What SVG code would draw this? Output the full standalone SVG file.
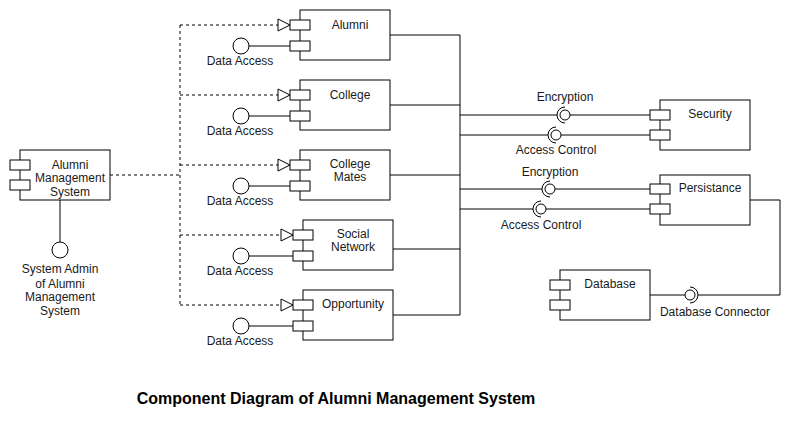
<svg xmlns="http://www.w3.org/2000/svg" width="799" height="421" viewBox="0 0 799 421">
<style>
.box{fill:#fff;stroke:#000;stroke-width:1}
.port{fill:#fff;stroke:#000;stroke-width:1}
.ln{fill:none;stroke:#000;stroke-width:1}
.dash{fill:none;stroke:#000;stroke-width:1;stroke-dasharray:3 3}
.tri{fill:#fff;stroke:#000;stroke-width:1}
.ball{fill:#fff;stroke:#000;stroke-width:1}
text{font-family:"Liberation Sans",Arial,sans-serif;font-size:12px;fill:#1a1a1a;text-anchor:middle}
.title{font-size:16px;font-weight:bold;fill:#000}
</style>
<rect width="799" height="421" fill="#fff"/>
<g id="connectors">
  <!-- dashed realization lines -->
  <path class="dash" d="M110,175 H180 M180,25 V305 M180,25 H278 M180,95 H278 M180,165 H278 M180,235 H281 M180,305 H281"/>
  <path class="tri" d="M278,19 L290,25 L278,31 Z"/>
  <path class="tri" d="M278,89 L290,95 L278,101 Z"/>
  <path class="tri" d="M278,159 L290,165 L278,171 Z"/>
  <path class="tri" d="M281,229 L293,235 L281,241 Z"/>
  <path class="tri" d="M281,299 L293,305 L281,311 Z"/>
  <!-- data access lollipops -->
  <path class="ln" d="M249,46 H290 M249,116 H290 M249,186 H290 M249,256 H293 M249,326 H293"/>
  <!-- admin lollipop -->
  <path class="ln" d="M60,200 V242"/>
  <!-- bus -->
  <path class="ln" d="M390,35 H460 M390,105 H460 M390,175 H460 M393,249 H460 M393,315 H460 M460,35 V315"/>
  <path class="ln" d="M460,115 H557 M570,115 H650"/>
  <path class="ln" d="M460,135 H548 M561,135 H650"/>
  <path class="ln" d="M460,189 H542 M555,189 H650"/>
  <path class="ln" d="M460,209 H533 M546,209 H650"/>
  <!-- sockets -->
  <path class="ln" d="M565,107 A8,8 0 0 0 565,123"/>
  <path class="ln" d="M556,127 A8,8 0 0 0 556,143"/>
  <path class="ln" d="M550,181 A8,8 0 0 0 550,197"/>
  <path class="ln" d="M541,201 A8,8 0 0 0 541,217"/>
  <circle class="ball" cx="565" cy="115" r="5"/>
  <circle class="ball" cx="556" cy="135" r="5"/>
  <circle class="ball" cx="550" cy="189" r="5"/>
  <circle class="ball" cx="541" cy="209" r="5"/>
  <!-- database connector -->
  <path class="ln" d="M750,200 H780 V295 H698 M650,295 H685"/>
  <path class="ln" d="M690,287 A8,8 0 0 1 690,303"/>
  <circle class="ball" cx="690" cy="295" r="5"/>
  <text x="565" y="101">Encryption</text>
  <text x="556" y="154">Access Control</text>
  <text x="550" y="176">Encryption</text>
  <text x="541" y="229">Access Control</text>
  <text x="715" y="316">Database Connector</text>
</g>
<g id="ams">
  <rect class="box" x="20" y="150" width="90" height="50"/>
  <rect class="port" x="10" y="160" width="20" height="10"/>
  <rect class="port" x="10" y="180" width="20" height="10"/>
  <text x="70" y="169">Alumni</text>
  <text x="70" y="182">Management</text>
  <text x="70" y="196">System</text>
</g>
<g id="admin">
  <circle class="ball" cx="60" cy="250" r="8"/>
  <text x="60" y="273">System Admin</text>
  <text x="60" y="288">of Alumni</text>
  <text x="60" y="301">Management</text>
  <text x="60" y="315">System</text>
</g>
<g id="alumni">
  <rect class="box" x="300" y="10" width="90" height="50"/>
  <rect class="port" x="290" y="20" width="20" height="10"/>
  <rect class="port" x="290" y="41" width="20" height="10"/>
  <text x="350" y="29">Alumni</text>
  <circle class="ball" cx="241" cy="46" r="8"/>
  <text x="240" y="65">Data Access</text>
</g>
<g id="college">
  <rect class="box" x="300" y="80" width="90" height="50"/>
  <rect class="port" x="290" y="90" width="20" height="10"/>
  <rect class="port" x="290" y="111" width="20" height="10"/>
  <text x="350" y="99">College</text>
  <circle class="ball" cx="241" cy="116" r="8"/>
  <text x="240" y="135">Data Access</text>
</g>
<g id="collegemates">
  <rect class="box" x="300" y="150" width="90" height="50"/>
  <rect class="port" x="290" y="160" width="20" height="10"/>
  <rect class="port" x="290" y="181" width="20" height="10"/>
  <text x="350" y="168">College</text>
  <text x="350" y="181">Mates</text>
  <circle class="ball" cx="241" cy="186" r="8"/>
  <text x="240" y="205">Data Access</text>
</g>
<g id="social">
  <rect class="box" x="303" y="220" width="90" height="50"/>
  <rect class="port" x="293" y="230" width="20" height="10"/>
  <rect class="port" x="293" y="251" width="20" height="10"/>
  <text x="353" y="238">Social</text>
  <text x="353" y="251">Network</text>
  <circle class="ball" cx="241" cy="256" r="8"/>
  <text x="240" y="275">Data Access</text>
</g>
<g id="opportunity">
  <rect class="box" x="303" y="290" width="90" height="50"/>
  <rect class="port" x="293" y="300" width="20" height="10"/>
  <rect class="port" x="293" y="321" width="20" height="10"/>
  <text x="353" y="308">Opportunity</text>
  <circle class="ball" cx="241" cy="326" r="8"/>
  <text x="240" y="345">Data Access</text>
</g>
<g id="security">
  <rect class="box" x="660" y="100" width="90" height="50"/>
  <rect class="port" x="650" y="110" width="20" height="10"/>
  <rect class="port" x="650" y="130" width="20" height="10"/>
  <text x="710" y="118">Security</text>
</g>
<g id="persistance">
  <rect class="box" x="660" y="175" width="90" height="50"/>
  <rect class="port" x="650" y="184" width="20" height="10"/>
  <rect class="port" x="650" y="204" width="20" height="10"/>
  <text x="710" y="192">Persistance</text>
</g>
<g id="database">
  <rect class="box" x="560" y="270" width="90" height="50"/>
  <rect class="port" x="550" y="280" width="20" height="10"/>
  <rect class="port" x="550" y="300" width="20" height="10"/>
  <text x="610" y="288">Database</text>
</g>
<text class="title" x="336" y="404">Component Diagram of Alumni Management System</text>
</svg>
